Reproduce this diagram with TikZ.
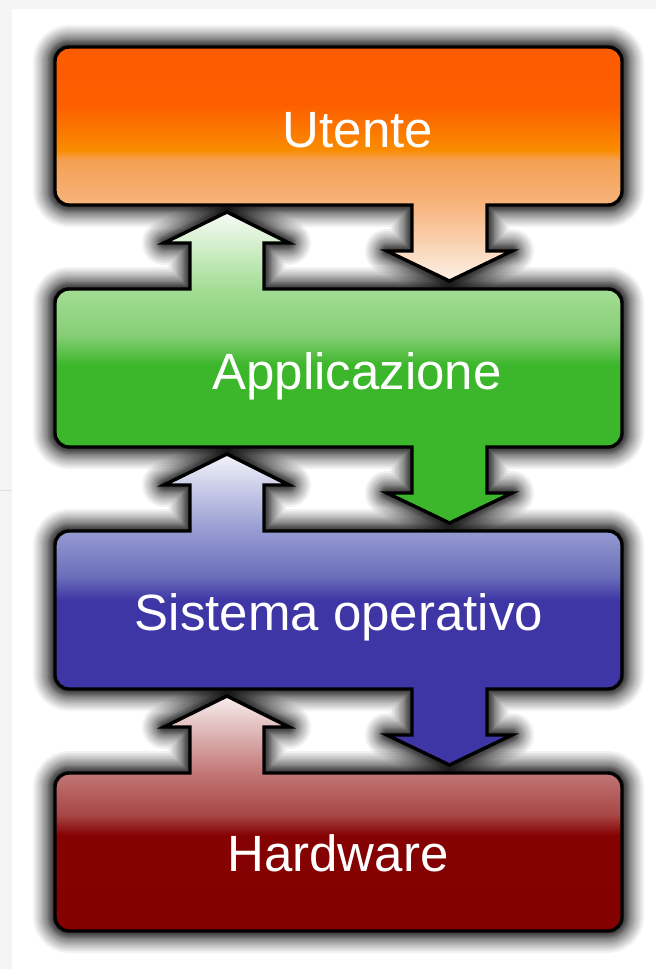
\documentclass[tikz,border=0pt]{standalone}
\usepackage{fontspec}
\setmainfont{Liberation Sans}

% colours of the four layers
\definecolor{utA}{HTML}{FCF1E8}
\definecolor{utB}{HTML}{F7B47E}
\definecolor{utC}{HTML}{F5A052}
\definecolor{utD}{HTML}{F98C00}
\definecolor{utE}{HTML}{FD5F00}
\definecolor{utF}{HTML}{FD5B00}
\definecolor{apA}{HTML}{3CB62A}
\definecolor{apB}{HTML}{86CE76}
\definecolor{apC}{HTML}{A3DD94}
\definecolor{apD}{HTML}{F7FCF6}
\definecolor{soA}{HTML}{3E36A5}
\definecolor{soB}{HTML}{6C70BB}
\definecolor{soC}{HTML}{959BD1}
\definecolor{soD}{HTML}{F3F3FA}
\definecolor{hwA}{HTML}{830000}
\definecolor{hwB}{HTML}{850202}
\definecolor{hwC}{HTML}{A84646}
\definecolor{hwD}{HTML}{C27676}
\definecolor{hwE}{HTML}{F8EEEE}

\pgfdeclareverticalshading{utenteshade}{100bp}{color(0bp)=(utA); color(25bp)=(utA);
  color(41.2bp)=(utB); color(50.9bp)=(utC); color(53bp)=(utD); color(62.6bp)=(utE);
  color(75bp)=(utF); color(100bp)=(utF)}
\pgfdeclareverticalshading{appshade}{100bp}{color(0bp)=(apA); color(50.4bp)=(apA);
  color(55.2bp)=(apB); color(62.6bp)=(apC); color(75bp)=(apD); color(100bp)=(apD)}
\pgfdeclareverticalshading{sisshade}{100bp}{color(0bp)=(soA); color(51.5bp)=(soA);
  color(55.5bp)=(soB); color(62.6bp)=(soC); color(75bp)=(soD); color(100bp)=(soD)}
\pgfdeclareverticalshading{hwshade}{100bp}{color(0bp)=(hwA); color(45.4bp)=(hwB);
  color(49.7bp)=(hwC); color(58.6bp)=(hwD); color(75bp)=(hwE); color(100bp)=(hwE)}

% outlines of the layers, box and arrows in one path
\def\layerutente{(55,61) arc(180:270:14) -- (608,47) arc(270:360:14) -- (622,191) arc(0:90:14)
  -- (487,205) -- (487,251) -- (512,251) -- (449.5,281) -- (387,251) -- (412,251) -- (412,205)
  -- (69,205) arc(90:180:14) -- cycle}
\def\layerapp{(55,303) arc(180:270:14) -- (190,289) -- (190,243) -- (164,243) -- (227,212)
  -- (289,243) -- (264,243) -- (264,289) -- (608,289) arc(270:360:14) -- (622,433) arc(0:90:14)
  -- (487,447) -- (487,493) -- (512,493) -- (449.5,523) -- (387,493) -- (412,493) -- (412,447)
  -- (69,447) arc(90:180:14) -- cycle}
\def\layersis{(55,545) arc(180:270:14) -- (190,531) -- (190,485) -- (164,485) -- (227,454)
  -- (289,485) -- (264,485) -- (264,531) -- (608,531) arc(270:360:14) -- (622,675) arc(0:90:14)
  -- (487,689) -- (487,735) -- (512,735) -- (449.5,765) -- (387,735) -- (412,735) -- (412,689)
  -- (69,689) arc(90:180:14) -- cycle}
\def\layerhw{(55,787) arc(180:270:14) -- (190,773) -- (190,727) -- (164,727) -- (227,696)
  -- (289,727) -- (264,727) -- (264,773) -- (608,773) arc(270:360:14) -- (622,917) arc(0:90:14)
  -- (69,931) arc(90:180:14) -- cycle}

\begin{document}
\begin{tikzpicture}[x=1pt,y=-1pt,
  layer/.style={draw=black,line width=3.4pt},
  glow/.style={draw=black,opacity=0.05,line join=round},
  layertext/.style={anchor=base,text=white,inner sep=0pt,
    font=\fontsize{51}{60}\selectfont}]
 \useasboundingbox (0,0) rectangle (656,969);
 \fill[black!4] (0,0) rectangle (656,969);
 \fill[white] (12,9) rectangle (656,969);
 \draw[black!12] (0,490) -- (12,490);
 % soft shadows first
 \foreach \d in {1,1.5,2,2.5,3,3.5,4,4.5,5,5.5,6,6.5,7,7.5,8,9,10,11,12,13,14,15.5,17,18.5,20,22} {
   \draw[glow,line width=2*\d pt] \layerutente;
   \draw[glow,line width=2*\d pt] \layerapp;
   \draw[glow,line width=2*\d pt] \layersis;
   \draw[glow,line width=2*\d pt] \layerhw;
 }
 % layers
 \shadedraw[layer,shading=utenteshade] \layerutente;
 \shadedraw[layer,shading=appshade] \layerapp;
 \shadedraw[layer,shading=sisshade] \layersis;
 \shadedraw[layer,shading=hwshade] \layerhw;
 \node[layertext] (utente) at (358,147) {Utente};
 \node[layertext] (app) at (357,389) {Applicazione};
 \node[layertext] (sis) at (339,630) {Sistema operativo};
 \node[layertext] (hw) at (338,871) {Hardware};
\end{tikzpicture}
\end{document}
